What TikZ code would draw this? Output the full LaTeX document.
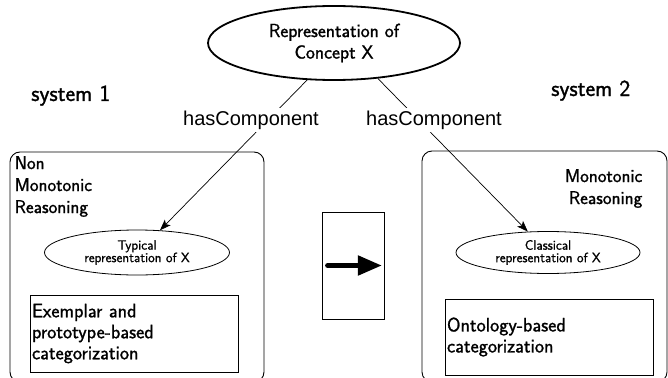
\documentclass[tikz,border=0pt]{standalone}
\usepackage{fontspec}
\newfontfamily\arialf{Liberation Sans}
\newfontfamily\medsans{Latin Modern Sans}[FakeBold=1.2]
\usetikzlibrary{shapes.geometric,arrows.meta}
\tikzset{
  mainell/.style={draw, ellipse, line width=1.8pt, inner sep=0pt, align=center,
    minimum width=252pt, minimum height=74pt,
    font=\medsans\fontsize{19}{21.5}\selectfont},
  smallell/.style={draw, ellipse, line width=0.8pt, inner sep=0pt, align=center,
    font=\medsans\fontsize{13.5}{12.5}\selectfont},
  sysbox/.style={draw, rounded corners=10pt, line width=0.9pt, inner sep=0pt},
  catbox/.style={draw, rectangle, line width=0.8pt, inner xsep=2pt, inner ysep=0pt,
    align=left, font=\medsans\fontsize{19.5}{21}\selectfont},
  reason/.style={inner sep=0pt, font=\medsans\fontsize{18.5}{22}\selectfont},
  systxt/.style={inner sep=0pt, anchor=base west, font=\medsans\fontsize{23}{26}\selectfont},
  relbl/.style={fill=white, inner xsep=1pt, inner ysep=2.5pt, anchor=base,
    font=\arialf\fontsize{20}{22}\selectfont},
  conn/.style={line width=0.7pt, -{Stealth[length=11pt,width=8pt,inset=2.5pt]}},
  bigarrow/.style={line width=5pt, line cap=round, -{Triangle[length=24pt,width=19pt]}}
}
\begin{document}
\begin{tikzpicture}[x=1pt,y=-1pt]
\useasboundingbox (0,0) rectangle (668,377);
% system boxes
\node[sysbox, minimum width=254pt, minimum height=230pt] (box1) at (137,267) {};
\node[sysbox, minimum width=245pt, minimum height=231pt] (box2) at (544.5,266.5) {};
% top concept
\node[mainell] (top) at (334,43) {Representation of\\Concept X};
% system labels
\node[systxt] (s1) at (31,101) {system 1};
\node[systxt] (s2) at (551,96) {system 2};
% reasoning labels
\node[reason, anchor=north west, align=left] (nmr) at (14.5,156) {Non\\Monotonic\\Reasoning};
\node[reason, anchor=north east, align=right] (mr) at (642.5,169) {Monotonic\\Reasoning};
% inner ellipses
\node[smallell, minimum width=185pt, minimum height=45pt] (typ) at (137,252.5) {Typical\\representation of X};
\node[smallell, minimum width=184pt, minimum height=42pt] (cla) at (548,252.5) {Classical\\representation of X};
% categorization boxes
\node[catbox, text width=204pt, minimum height=77pt] (ex) at (134,333.5) {Exemplar and\\prototype-based\\categorization};
\node[catbox, text width=204pt, minimum height=76pt] (on) at (549,337) {Ontology-based\\categorization};
% middle box with arrow
\node[draw, rectangle, line width=0.8pt, minimum width=62pt, minimum height=107pt, inner sep=0pt] (mid) at (353,265.5) {};
\draw[bigarrow] ([xshift=6pt]mid.west) -- ([xshift=-2.5pt]mid.east);
% connectors
\draw[conn] (top.234) -- (typ.44);
\draw[conn] (top.321) -- (cla.134);
\node[relbl] (hc1) at (251,125) {hasComponent};
\node[relbl] (hc2) at (434,125) {hasComponent};
\end{tikzpicture}
\end{document}
